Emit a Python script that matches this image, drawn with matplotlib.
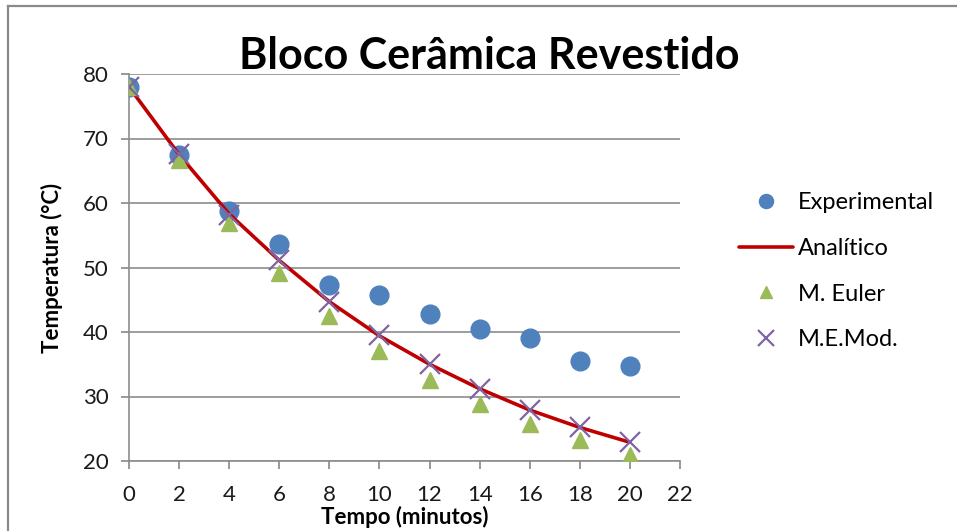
import matplotlib
matplotlib.use("Agg")
import matplotlib.pyplot as plt
from matplotlib.lines import Line2D

plt.rcParams['font.family'] = ['Lato', 'DejaVu Sans']

# Tempo (minutos)
tempo = [0, 2, 4, 6, 8, 10, 12, 14, 16, 18, 20]
# Temperatura (°C) por método
experimental = [78.0, 67.4, 58.8, 53.6, 47.3, 45.8, 42.8, 40.5, 39.0, 35.5, 34.8]
analitico = [78.0, 67.5, 58.3, 51.1, 44.7, 39.4, 35.0, 31.2, 27.9, 25.2, 22.9]
euler = [78.0, 66.6, 56.9, 49.1, 42.5, 37.1, 32.6, 28.9, 25.7, 23.3, 20.9]
euler_mod = [78.0, 67.6, 58.2, 51.2, 44.7, 39.5, 35.0, 31.2, 27.9, 25.3, 23.0]

x_ticks = list(range(0, 23, 2))
y_ticks = [20, 30, 40, 50, 60, 70, 80]

fig = plt.figure(figsize=(9.57, 5.31), dpi=100)
ax = fig.add_axes([129 / 957, 1 - 461 / 531, 551 / 957, 387 / 531])

ax.plot(tempo, experimental, linestyle='none', marker='o', markersize=13.5,
        color='#4F81BD', label='Experimental', zorder=3)
ax.plot(tempo, analitico, color='#C00000', linewidth=2.6, label='Analítico',
        zorder=4, solid_capstyle='round', solid_joinstyle='round')
ax.plot(tempo, euler, linestyle='none', marker='^', markersize=11,
        color='#9BBB59', label='M. Euler', zorder=5)
ax.plot(tempo, euler_mod, linestyle='none', marker='x', markersize=15,
        markeredgewidth=1.6, color='#8064A2', label='M.E.Mod.', zorder=6)

ax.set_xlim(0, 22)
ax.set_ylim(20, 80)
ax.set_xticks(x_ticks)
ax.set_yticks(y_ticks)
ax.tick_params(axis='both', labelsize=16, length=5.5, width=1.2,
               direction='out', labelcolor='#1a1a1a')
ax.tick_params(axis='x', color='#888888', pad=12)
ax.tick_params(axis='y', color='#888888', pad=9)
ax.yaxis.grid(True, color='#8c8c8c', linewidth=1.2)
ax.set_axisbelow(True)
for side in ('top', 'right'):
    ax.spines[side].set_visible(False)
for side in ('left', 'bottom'):
    ax.spines[side].set_color('#8c8c8c')
    ax.spines[side].set_linewidth(1.2)

ax.set_xlabel('Tempo (minutos)', fontsize=16, fontweight='bold')
ax.xaxis.set_label_coords(0.5, -45 / 387)
ax.set_ylabel('Temperatura (°C)', fontsize=16, fontweight='bold')
ax.yaxis.set_label_coords(-66 / 551, 0.5)

fig.text(489 / 957, 1 - 56 / 531, 'Bloco Cerâmica Revestido', fontsize=31,
         fontweight='bold', ha='center', va='center')

fig.legend(loc='upper left', bbox_to_anchor=(739 / 957, 1 - 192 / 531),
           frameon=False, fontsize=17, handlelength=2.3, handletextpad=0.2,
           labelspacing=1.05, borderpad=0, borderaxespad=0, markerscale=0.75)

# outer frame lines
fig.add_artist(Line2D([8 / 957, 8 / 957], [0, 1 - 6 / 531], color='#8a8a8a',
                      linewidth=1.6, transform=fig.transFigure))
fig.add_artist(Line2D([8 / 957, 1], [1 - 6 / 531, 1 - 6 / 531], color='#8a8a8a',
                      linewidth=1.6, transform=fig.transFigure))

fig.savefig('out.png', dpi=100)
